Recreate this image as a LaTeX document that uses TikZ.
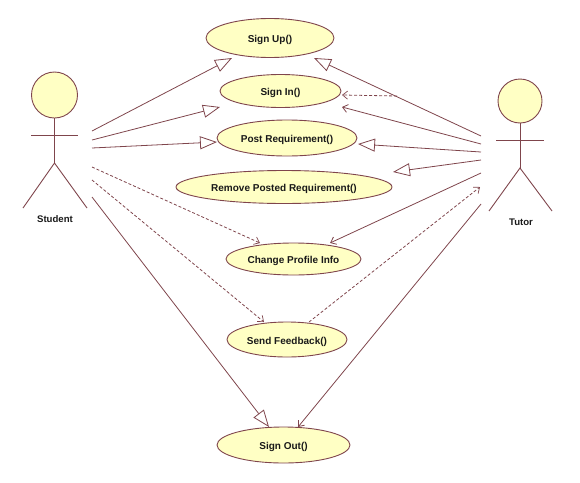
\documentclass[tikz,border=0pt]{standalone}
\usepackage{fontspec}
\setmainfont{Liberation Sans}
\usetikzlibrary{arrows.meta,shapes.geometric}
\definecolor{umlline}{HTML}{7F454C}
\definecolor{umlfill}{HTML}{FFFFC4}
\tikzset{
  x=1pt,y=-1pt,
  usecase/.style={ellipse,draw=umlline,fill=umlfill,line width=0.9pt,inner sep=0pt,text height=10pt,text depth=1pt,font=\bfseries\fontsize{10}{12}\selectfont,text=black!90},
  actorhead/.style={circle,draw=umlline,fill=umlfill,line width=0.9pt,inner sep=0pt},
  actorname/.style={font=\bfseries\fontsize{9.6}{11}\selectfont,text=black!90,inner sep=0pt},
  limb/.style={draw=umlline,line width=0.9pt},
  conn/.style={draw=umlline,line width=0.8pt},
  gen/.style={conn,-{Triangle[open,length=17pt,width=13pt,fill=white]}},
  assoc/.style={conn,-{Straight Barb[length=5pt,width=8pt]}},
  dep/.style={conn,dash pattern=on 3pt off 2pt,-{Straight Barb[length=5pt,width=8pt,line width=0.7pt]}}
}
\begin{document}
\begin{tikzpicture}
\useasboundingbox (0,0) rectangle (580,482);
% use cases
\node[usecase,minimum width=128pt,minimum height=39pt] (signup) at (270,38) {Sign Up()};
\node[usecase,minimum width=121pt,minimum height=33pt] (signin) at (280.5,91) {Sign In()};
\node[usecase,minimum width=140pt,minimum height=36pt] (post) at (287,138) {Post Requirement()};
\node[usecase,minimum width=216pt,minimum height=33pt] (remove) at (284,187) {Remove Posted Requirement()};
\node[usecase,minimum width=135pt,minimum height=32pt] (change) at (293.5,259) {Change Profile Info};
\node[usecase,minimum width=120pt,minimum height=35pt] (feedback) at (287,339.5) {Send Feedback()};
\node[usecase,minimum width=133pt,minimum height=36pt] (signout) at (283.5,445) {Sign Out()};
% student
\node[actorhead,minimum size=46pt] (shead) at (54.5,95) {};
\coordinate (sarmL) at (31,135); \coordinate (sarmR) at (78,135);
\coordinate (ship) at (54.5,163);
\coordinate (slegL) at (23,208); \coordinate (slegR) at (87,208);
\draw[limb] (shead.south) -- (ship);
\draw[limb] (sarmL) -- (sarmR);
\draw[limb] (slegL) -- (ship) -- (slegR);
\node[actorname] (student) at (55,219) {Student};
% tutor
\node[actorhead,minimum size=44pt] (thead) at (520,101) {};
\coordinate (tarmL) at (496,140); \coordinate (tarmR) at (544,140);
\coordinate (thip) at (520,168);
\coordinate (tlegL) at (489,211); \coordinate (tlegR) at (552,211);
\draw[limb] (thead.south) -- (thip);
\draw[limb] (tarmL) -- (tarmR);
\draw[limb] (tlegL) -- (thip) -- (tlegR);
\node[actorname] (tutor) at (521,222) {Tutor};
% connector ends
\coordinate (s1) at (92,131); \coordinate (s2) at (92,140); \coordinate (s3) at (92,148);
\coordinate (s4) at (92,167); \coordinate (s5) at (92,180); \coordinate (s6) at (92,197);
\coordinate (t1) at (481,136); \coordinate (t2) at (481,144); \coordinate (t3) at (481,152);
\coordinate (t4) at (481,160); \coordinate (t5) at (481,173); \coordinate (t6) at (480,187);
\coordinate (t7) at (481,204);
\coordinate (upS) at (232,58); \coordinate (upT) at (314,58);
\coordinate (inS) at (220,107); \coordinate (inT) at (342,107);
\coordinate (inD) at (342,95); \coordinate (branch) at (397,96);
\coordinate (postS) at (217,142); \coordinate (postT) at (358,144);
\coordinate (remT) at (393,172);
\coordinate (chS) at (260,243); \coordinate (chT) at (330,243);
\coordinate (fbS) at (264,322); \coordinate (fbT) at (309,322);
\coordinate (outS) at (269,427); \coordinate (outT) at (298,427);
% student connectors
\draw[gen] (s1) -- (upS);
\draw[gen] (s2) -- (inS);
\draw[gen] (s3) -- (postS);
\draw[dep] (s4) -- (chS);
\draw[dep] (s5) -- (fbS);
\draw[gen] (s6) -- (outS);
% tutor connectors
\draw[gen] (t1) -- (upT);
\draw[dep] (branch) -- (inD);
\draw[assoc] (t2) -- (inT);
\draw[gen] (t3) -- (postT);
\draw[gen] (t4) -- (remT);
\draw[assoc] (t5) -- (chT);
\draw[dep] (fbT) -- (t6);
\draw[assoc] (t7) -- (outT);
\end{tikzpicture}
\end{document}
